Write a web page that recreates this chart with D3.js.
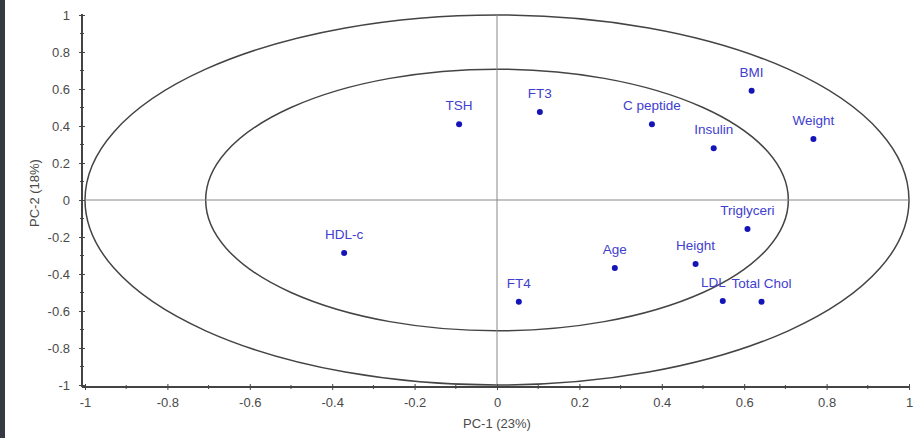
<!DOCTYPE html>
<html>
<head>
<meta charset="utf-8">
<script src="https://cdn.jsdelivr.net/npm/d3@7"></script>
<style>
  body { margin: 0; background: #fff; }
  svg { display: block; font-family: "Liberation Sans", Arial, sans-serif; }
</style>
</head>
<body>
<div class="chart"></div>
<script>
const labels = ['TSH', 'FT3', 'C peptide', 'Insulin', 'BMI', 'Weight', 'Triglyceri',
  'Height', 'Age', 'LDL', 'Total Chol', 'HDL-c', 'FT4'];
const pc1 = [-0.092, 0.104, 0.376, 0.526, 0.618, 0.768, 0.608, 0.482, 0.286, 0.548, 0.642, -0.371, 0.053];
const pc2 = [0.41, 0.476, 0.41, 0.28, 0.59, 0.33, -0.157, -0.346, -0.368, -0.546, -0.55, -0.286, -0.55];
const majorTicks = [-1, -0.8, -0.6, -0.4, -0.2, 0, 0.2, 0.4, 0.6, 0.8, 1];
const minorTicks = [-0.9, -0.7, -0.5, -0.3, -0.1, 0.1, 0.3, 0.5, 0.7, 0.9];
const radii = [1, Math.SQRT1_2];

const width = 921, height = 438;
const data = labels.map((d, i) => ({label: d, x: pc1[i], y: pc2[i]}));

const xScale = d3.scaleLinear().domain([-1, 1]).range([85, 909]);
const yScale = d3.scaleLinear().domain([-1, 1]).range([385, 15]);
// plain hyphen for negatives, like the original
const fmt = d => String(d);

const svg = d3.select('.chart').append('svg')
    .attr('width', width)
    .attr('height', height);

// dark strip on the left edge of the screenshot
svg.append('rect')
    .attr('x', 0).attr('y', 0)
    .attr('width', 5).attr('height', height)
    .attr('fill', '#353a42');

// correlation circles
svg.append('g').selectAll('ellipse')
  .data(radii)
  .join('ellipse')
    .attr('cx', xScale(0))
    .attr('cy', yScale(0))
    .attr('rx', r => xScale(r) - xScale(0))
    .attr('ry', r => yScale(0) - yScale(r))
    .attr('fill', 'none')
    .attr('stroke', '#444')
    .attr('stroke-width', 1.5);

// zero lines
svg.append('line')
    .attr('x1', xScale(-1)).attr('x2', xScale(1))
    .attr('y1', yScale(0)).attr('y2', yScale(0))
    .attr('stroke', '#888').attr('stroke-width', 1);
svg.append('line')
    .attr('x1', xScale(0)).attr('x2', xScale(0))
    .attr('y1', yScale(1)).attr('y2', yScale(-1))
    .attr('stroke', '#888').attr('stroke-width', 1);

// axes
const axisX0 = 82, axisY0 = 387;

const xAxis = svg.append('g')
    .attr('transform', `translate(0,${axisY0})`)
    .call(d3.axisBottom(xScale).tickValues(majorTicks).tickSize(4).tickPadding(7)
      .tickFormat(fmt));
xAxis.select('.domain').attr('d', `M${axisX0},0H${xScale(1) + 1}`);
xAxis.selectAll('.tick line').attr('y1', -3).attr('y2', 3);
xAxis.append('g').selectAll('line')
  .data(minorTicks)
  .join('line')
    .attr('x1', d => xScale(d)).attr('x2', d => xScale(d))
    .attr('y1', -2).attr('y2', 2);

const yAxis = svg.append('g')
    .attr('transform', `translate(${axisX0},0)`)
    .call(d3.axisLeft(yScale).tickValues(majorTicks).tickSize(4).tickPadding(8)
      .tickFormat(fmt));
yAxis.select('.domain').attr('d', `M0,${yScale(1) - 1}V${axisY0}`);
yAxis.selectAll('.tick line').attr('x1', -3).attr('x2', 3);
yAxis.append('g').selectAll('line')
  .data(minorTicks)
  .join('line')
    .attr('y1', d => yScale(d)).attr('y2', d => yScale(d))
    .attr('x1', -2).attr('x2', 2);

[xAxis, yAxis].forEach(a => {
  a.select('.domain').attr('stroke', '#444').attr('stroke-width', 2);
  a.selectAll('line').attr('stroke', '#444');
  a.selectAll('text').attr('fill', '#4a4a4a').attr('font-size', 13)
    .attr('font-family', '"Liberation Sans", Arial, sans-serif');
});

// axis titles
svg.append('text')
    .attr('x', xScale(0)).attr('y', 428)
    .attr('text-anchor', 'middle')
    .attr('font-size', 13).attr('fill', '#4a4a4a')
    .text('PC-1 (23%)');
svg.append('text')
    .attr('transform', `translate(39,193) rotate(-90)`)
    .attr('text-anchor', 'middle')
    .attr('font-size', 13).attr('fill', '#4a4a4a')
    .text('PC-2 (18%)');

// points and labels
const pts = svg.append('g');
pts.selectAll('circle')
  .data(data)
  .join('circle')
    .attr('cx', d => xScale(d.x))
    .attr('cy', d => yScale(d.y))
    .attr('r', 3)
    .attr('fill', '#1414b8');
// LDL sits right next to Total Chol, so its label is pulled to the left
pts.selectAll('text')
  .data(data)
  .join('text')
    .attr('x', d => xScale(d.x) + (d.label === 'LDL' ? 3 : 0))
    .attr('y', d => yScale(d.y) - 14)
    .attr('text-anchor', d => d.label === 'LDL' ? 'end' : 'middle')
    .attr('font-size', 13.5)
    .attr('fill', '#4040d0')
    .text(d => d.label);
</script>
</body>
</html>
